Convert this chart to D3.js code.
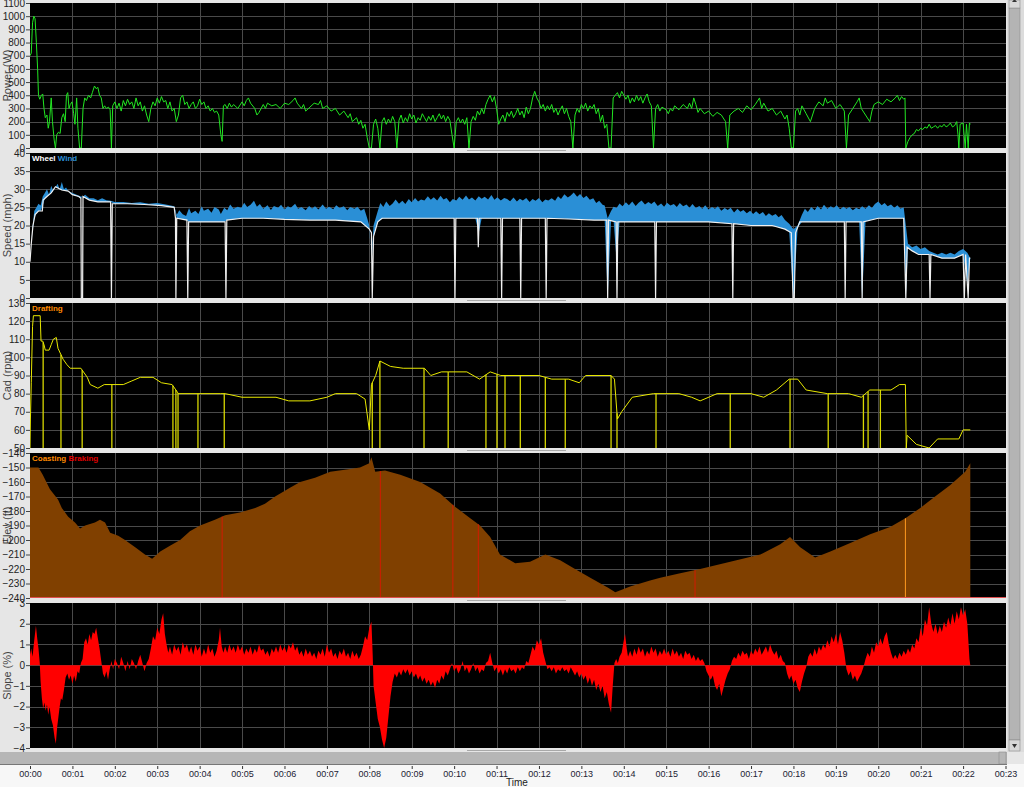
<!DOCTYPE html>
<html><head><meta charset="utf-8">
<script src="https://cdn.jsdelivr.net/npm/d3@7"></script>
<style>body{margin:0;background:#e6e6e6;overflow:hidden}svg{display:block}</style>
</head><body>
<svg id="c" width="1024" height="787"></svg>
<script>
// ---- data (time in minutes) ----
const timeTicks = d3.range(0, 24);
const powerData = [[0,700],[0.03,720],[0.06,950],[0.09,1000],[0.12,980],[0.15,800],[0.18,600],[0.2,400],[0.23,370],[0.27,400],[0.3,410],[0.33,300],[0.36,230],[0.4,250],[0.43,150],[0.46,200],[0.5,380],[0.53,200],[0.57,60],[0.6,0],[0.63,100],[0.67,120],[0.71,110],[0.75,230],[0.79,260],[0.83,200],[0.86,400],[0.89,420],[0.92,300],[0.95,330],[0.99,350],[1.03,260],[1.06,180],[1.1,380],[1.13,150],[1.17,0],[1.21,0],[1.25,300],[1.29,380],[1.33,360],[1.38,400],[1.43,380],[1.47,420],[1.52,470],[1.56,450],[1.6,460],[1.64,400],[1.68,380],[1.72,300],[1.76,320],[1.8,300],[1.85,310],[1.89,290],[1.92,0],[1.95,320],[2.0,350],[2.05,300],[2.1,340],[2.15,280],[2.2,360],[2.25,320],[2.3,370],[2.35,330],[2.4,350],[2.45,300],[2.5,380],[2.55,320],[2.6,350],[2.65,280],[2.7,320],[2.75,250],[2.8,200],[2.85,300],[2.9,350],[2.95,320],[3.0,380],[3.05,340],[3.1,390],[3.15,350],[3.2,360],[3.25,300],[3.3,350],[3.35,280],[3.4,300],[3.45,200],[3.5,250],[3.55,380],[3.6,400],[3.65,330],[3.7,350],[3.75,300],[3.8,330],[3.85,350],[3.9,300],[3.95,320],[4.0,370],[4.05,330],[4.1,350],[4.15,300],[4.2,320],[4.25,280],[4.3,300],[4.35,270],[4.4,280],[4.45,250],[4.5,100],[4.53,50],[4.56,320],[4.6,330],[4.65,300],[4.7,340],[4.75,310],[4.8,330],[4.9,300],[5.0,350],[5.05,320],[5.1,360],[5.15,380],[5.2,340],[5.3,300],[5.35,250],[5.4,270],[5.5,330],[5.55,300],[5.6,340],[5.7,320],[5.8,330],[5.9,300],[6.0,340],[6.1,330],[6.2,360],[6.25,380],[6.3,340],[6.4,300],[6.45,330],[6.5,280],[6.6,310],[6.7,340],[6.8,330],[6.85,360],[6.9,300],[7.0,320],[7.1,280],[7.2,300],[7.3,250],[7.4,280],[7.5,230],[7.55,260],[7.6,200],[7.7,230],[7.75,180],[7.8,210],[7.85,150],[7.9,180],[7.95,80],[8.0,0],[8.05,0],[8.1,180],[8.15,220],[8.2,150],[8.25,0],[8.3,200],[8.35,230],[8.4,180],[8.45,220],[8.5,190],[8.55,240],[8.6,200],[8.65,0],[8.7,210],[8.75,250],[8.8,190],[8.85,230],[8.9,200],[8.95,260],[9.0,220],[9.05,250],[9.1,190],[9.15,230],[9.2,210],[9.25,260],[9.3,230],[9.35,200],[9.4,240],[9.45,210],[9.5,250],[9.55,200],[9.6,230],[9.65,260],[9.7,220],[9.75,250],[9.8,200],[9.85,240],[9.9,210],[9.95,100],[10.0,0],[10.05,200],[10.1,230],[10.15,190],[10.2,220],[10.25,180],[10.3,230],[10.35,0],[10.4,200],[10.45,240],[10.5,210],[10.55,280],[10.6,250],[10.65,300],[10.7,260],[10.75,330],[10.8,370],[10.85,400],[10.9,350],[10.95,390],[11.0,300],[11.05,180],[11.1,220],[11.15,250],[11.2,200],[11.25,270],[11.3,240],[11.35,280],[11.4,230],[11.45,260],[11.5,300],[11.55,250],[11.6,280],[11.65,230],[11.7,310],[11.75,260],[11.8,300],[11.85,380],[11.9,430],[11.95,380],[12.0,350],[12.05,300],[12.1,330],[12.15,280],[12.2,320],[12.25,290],[12.3,330],[12.35,270],[12.4,300],[12.45,250],[12.5,290],[12.55,320],[12.6,260],[12.65,300],[12.7,240],[12.75,200],[12.8,0],[12.85,250],[12.9,300],[12.95,270],[13.0,330],[13.05,300],[13.1,340],[13.15,280],[13.2,320],[13.25,300],[13.3,330],[13.35,260],[13.4,300],[13.45,200],[13.5,250],[13.55,150],[13.6,180],[13.65,0],[13.7,0],[13.75,380],[13.8,400],[13.85,420],[13.9,380],[13.95,430],[14.0,400],[14.05,370],[14.1,400],[14.15,340],[14.2,380],[14.25,350],[14.3,400],[14.35,360],[14.4,390],[14.45,340],[14.5,380],[14.55,410],[14.6,350],[14.65,320],[14.7,0],[14.75,300],[14.8,330],[14.85,280],[14.9,310],[15.0,290],[15.05,260],[15.1,300],[15.15,280],[15.2,320],[15.3,290],[15.4,330],[15.5,300],[15.55,340],[15.6,300],[15.65,380],[15.7,330],[15.75,270],[15.8,300],[15.9,260],[16.0,280],[16.1,240],[16.2,270],[16.3,250],[16.4,200],[16.45,0],[16.5,250],[16.6,280],[16.7,300],[16.8,270],[16.9,320],[17.0,290],[17.1,330],[17.2,380],[17.25,300],[17.3,340],[17.4,280],[17.5,300],[17.6,250],[17.7,280],[17.8,220],[17.85,250],[17.9,150],[17.95,0],[18.0,0],[18.05,280],[18.1,300],[18.15,250],[18.2,320],[18.3,260],[18.4,200],[18.5,300],[18.6,350],[18.7,320],[18.75,380],[18.8,340],[18.9,360],[19.0,300],[19.1,330],[19.2,280],[19.25,0],[19.3,250],[19.4,300],[19.5,350],[19.55,380],[19.6,300],[19.7,250],[19.8,200],[19.85,280],[19.9,330],[20.0,350],[20.1,330],[20.2,370],[20.3,350],[20.4,380],[20.45,400],[20.5,360],[20.55,390],[20.6,370],[20.63,380],[20.65,0],[20.7,50],[20.75,80],[20.8,100],[20.85,110],[20.9,140],[20.95,130],[21.0,150],[21.05,140],[21.1,160],[21.15,150],[21.2,180],[21.25,150],[21.3,160],[21.35,170],[21.4,150],[21.45,170],[21.5,160],[21.55,180],[21.6,160],[21.65,170],[21.7,190],[21.75,160],[21.8,170],[21.85,200],[21.88,100],[21.9,0],[21.93,180],[22.0,190],[22.05,0],[22.08,180],[22.12,0],[22.15,190],[22.17,180]];
const wheelData = [[0,10],[0.03,15],[0.07,20],[0.12,23],[0.2,24],[0.29,24],[0.31,27],[0.4,28],[0.5,29],[0.6,30.7],[0.75,29.8],[0.9,29.5],[1.0,28.5],[1.15,28],[1.2,27.5],[1.21,0],[1.24,0],[1.25,28],[1.4,27],[1.6,26.5],[1.9,26.5],[1.92,0],[1.94,26],[2.3,26],[2.7,25.8],[3.1,25.5],[3.4,25],[3.43,22],[3.44,0],[3.46,22],[3.7,21.5],[3.72,0],[3.74,21],[4.2,21],[4.6,21],[4.62,0],[4.64,21.5],[5.0,22],[5.5,22],[6.0,21.7],[6.6,21.5],[7.2,21.5],[7.8,21],[8.0,19],[8.05,18],[8.07,0],[8.1,17],[8.2,21],[8.3,22],[9.0,22],[9.6,22],[10.0,22],[10.02,0],[10.04,22],[10.55,22],[10.57,14],[10.59,22],[11.1,22],[11.12,0],[11.14,22],[11.55,22],[11.57,0],[11.59,22],[12.15,22],[12.17,0],[12.19,22],[12.7,21.8],[13.3,21.5],[13.6,21.5],[13.62,0],[13.64,21.5],[13.82,21],[13.84,0],[13.86,21],[14.3,21],[14.73,21],[14.75,0],[14.77,21],[15.3,21],[16.0,21],[16.55,20.5],[16.57,0],[16.59,20.5],[17.0,20],[17.5,20],[17.8,19],[17.95,18],[17.99,0],[18.02,0],[18.05,18],[18.15,21],[18.6,21],[19.2,21],[19.22,0],[19.24,21],[19.6,21],[19.62,0],[19.64,21],[20.0,22],[20.6,22],[20.65,0],[20.68,14],[20.8,13],[20.95,12],[21.2,12],[21.22,0],[21.24,12],[21.5,11],[21.8,11],[22.0,12],[22.03,0],[22.06,12],[22.12,0],[22.15,11],[22.17,11]];
const windData = [[0,10],[0.05,18],[0.1,24],[0.15,25],[0.2,26],[0.25,25.5],[0.3,28],[0.35,29],[0.4,30],[0.45,28.5],[0.5,31],[0.55,29.5],[0.6,30.5],[0.65,31.5],[0.7,30],[0.75,32],[0.8,30],[0.85,30.5],[0.9,29.5],[1.0,29],[1.1,28.5],[1.2,28],[1.25,28],[1.3,28.5],[1.4,27.5],[1.5,27.5],[1.6,27],[1.7,27.5],[1.8,27],[1.9,26.8],[2.0,26.5],[2.2,26.5],[2.4,26.2],[2.6,26.4],[2.8,26],[3.0,26.2],[3.2,25.8],[3.4,25.3],[3.46,23],[3.52,24.2],[3.6,23.1],[3.68,22.6],[3.75,24.8],[3.8,23.4],[3.9,24.1],[3.97,23.2],[4.05,25.3],[4.1,24.1],[4.2,24.6],[4.28,23.5],[4.35,25.1],[4.45,24.4],[4.5,23.2],[4.58,24.9],[4.65,24.2],[4.72,25.8],[4.8,24.6],[4.9,25.2],[4.98,24.8],[5.05,26.3],[5.12,25.1],[5.2,25.7],[5.28,26.8],[5.35,25.2],[5.42,25.9],[5.5,24.6],[5.6,25.6],[5.68,24.3],[5.75,25.4],[5.85,24.9],[5.92,25.7],[6.0,24.4],[6.08,25.3],[6.15,24.9],[6.25,26],[6.32,24.6],[6.4,25.1],[6.5,24.2],[6.58,25.4],[6.65,24.7],[6.72,25.3],[6.8,24.4],[6.9,25.8],[6.98,24.6],[7.05,25.2],[7.15,24.5],[7.22,25.6],[7.3,24.8],[7.4,25.3],[7.48,24.2],[7.55,25.1],[7.65,24.6],[7.72,25.2],[7.8,24.1],[7.88,24.6],[7.95,22],[8.0,20],[8.05,10],[8.1,20],[8.2,24],[8.26,26.2],[8.33,25.1],[8.4,26.6],[8.48,25.4],[8.55,26.1],[8.62,27.2],[8.7,26],[8.78,26.8],[8.85,25.9],[8.93,27.3],[9.0,26.4],[9.08,27.6],[9.15,26.6],[9.22,27.2],[9.3,26.9],[9.38,28.1],[9.45,27.1],[9.52,27.8],[9.6,26.9],[9.68,28.2],[9.75,27.2],[9.82,27.6],[9.9,26.4],[9.97,27.3],[10.05,26.9],[10.12,27.9],[10.2,27.1],[10.28,28.3],[10.35,27.2],[10.42,27.7],[10.5,26.9],[10.58,28.1],[10.65,27.4],[10.72,27.9],[10.8,27.2],[10.88,28.4],[10.95,27.1],[11.02,27.8],[11.1,26.9],[11.18,27.6],[11.25,27.3],[11.32,26.7],[11.4,27.7],[11.48,26.6],[11.55,27.4],[11.62,26.9],[11.7,27.6],[11.78,26.5],[11.85,27.3],[11.92,26.8],[12.0,27.6],[12.08,26.4],[12.15,27.2],[12.22,26.9],[12.3,27.5],[12.38,26.8],[12.45,28.1],[12.52,27.3],[12.6,28.6],[12.68,27.7],[12.75,28.3],[12.82,29.1],[12.9,27.9],[12.97,28.7],[13.05,27.6],[13.12,28.2],[13.2,27.1],[13.28,27.5],[13.35,26.2],[13.42,26.8],[13.5,25.7],[13.55,25.5],[13.62,22],[13.7,24],[13.76,25.2],[13.83,24.8],[13.9,26.1],[13.97,25.3],[14.05,26.4],[14.12,25.6],[14.2,26.6],[14.28,25.4],[14.35,26.3],[14.42,26.9],[14.5,25.8],[14.58,26.5],[14.65,25.9],[14.72,26.6],[14.8,25.4],[14.88,26.1],[14.95,25.2],[15.02,26.3],[15.1,25.5],[15.18,25.9],[15.25,25.1],[15.32,26.2],[15.4,25.3],[15.48,25.8],[15.55,24.9],[15.62,25.9],[15.7,24.8],[15.78,25.4],[15.85,24.6],[15.92,25.6],[16.0,24.4],[16.08,25.1],[16.15,24.6],[16.22,25.3],[16.3,24.1],[16.38,24.8],[16.45,24.3],[16.52,24.9],[16.6,23.6],[16.68,24.6],[16.75,23.8],[16.82,24.3],[16.9,23.4],[16.98,24.1],[17.05,23.2],[17.12,23.9],[17.2,23.1],[17.28,23.7],[17.35,22.6],[17.42,23.4],[17.5,22.7],[17.58,23.2],[17.65,22.3],[17.72,22.9],[17.8,21.5],[17.9,20.5],[18.0,19],[18.1,20],[18.2,23],[18.27,24.6],[18.34,23.7],[18.42,25.1],[18.5,24.2],[18.57,25.4],[18.65,24.4],[18.72,25.7],[18.8,24.6],[18.88,25.3],[18.95,24.8],[19.02,25.6],[19.1,24.5],[19.18,25.2],[19.25,24.6],[19.32,25.1],[19.4,24.2],[19.48,24.9],[19.55,24.5],[19.62,25.3],[19.7,24.6],[19.78,25.6],[19.85,24.8],[19.92,25.9],[20.0,26.6],[20.08,25.6],[20.15,26.2],[20.22,25.3],[20.3,25.8],[20.38,24.9],[20.45,25.6],[20.52,24.7],[20.6,25],[20.65,20],[20.7,15],[20.8,14],[20.9,14.5],[21.0,13.5],[21.1,14],[21.2,13],[21.3,12.5],[21.4,12],[21.5,12.5],[21.6,12],[21.7,12.5],[21.8,12],[21.9,13],[22.0,13.5],[22.1,12.5],[22.17,11]];
const cadData = [[0,50],[0.01,66],[0.03,86],[0.06,117],[0.08,123],[0.24,123],[0.26,109],[0.3,109],[0.33,107],[0.36,104],[0.45,104],[0.5,107],[0.55,110],[0.62,111],[0.66,105],[0.78,99],[0.87,96],[0.95,94],[1.2,94],[1.35,89],[1.42,85],[1.6,83],[1.75,85],[2.2,85],[2.4,87],[2.6,89],[2.9,89],[3.1,86],[3.35,85],[3.5,80],[4.5,80],[4.6,80],[5.0,78],[5.8,78],[6.1,76],[6.6,76],[7.0,78],[7.2,80],[7.7,80],[7.9,77],[8.0,60],[8.05,85],[8.15,90],[8.25,98],[8.5,95],[8.8,94],[9.3,94],[9.45,90],[9.7,92],[10.3,92],[10.6,88],[10.85,92],[11.1,90],[12.0,90],[12.3,88],[12.7,88],[12.95,86],[13.1,90],[13.7,90],[13.78,88],[13.85,66],[13.95,70],[14.2,78],[14.7,80],[15.3,80],[15.6,78],[15.8,76],[16.2,80],[17.0,80],[17.3,78],[17.6,82],[17.9,88],[18.1,88],[18.3,82],[18.8,80],[19.3,80],[19.6,78],[19.8,82],[20.3,82],[20.5,85],[20.64,85],[20.66,50],[20.68,57],[20.9,52],[21.2,50],[21.4,55],[21.9,55],[22.0,60],[22.17,60]];
const cadDropTimes = [0.31,0.73,1.23,1.93,3.37,3.44,3.49,3.96,4.58,8.07,8.25,9.29,9.86,10.75,11.01,11.2,11.56,12.15,12.62,13.7,13.84,14.76,16.51,17.92,18.82,19.65,19.76,20.05];
const elevData = [[0,-150],[0.2,-150],[0.3,-155],[0.47,-165],[0.66,-172],[0.75,-178],[0.9,-184],[1.06,-188],[1.18,-192],[1.3,-190],[1.53,-188],[1.65,-186],[1.77,-188],[1.89,-195],[2.08,-197],[2.24,-200],[2.48,-205],[2.71,-210],[2.88,-213],[3.07,-208],[3.3,-204],[3.54,-200],[3.77,-194],[4.01,-190],[4.36,-186],[4.6,-183],[4.95,-181],[5.31,-178],[5.54,-175],[5.78,-170],[6.13,-164],[6.37,-160],[6.72,-157],[7.08,-153],[7.55,-151],[7.78,-150],[8.0,-147],[8.05,-143],[8.14,-153],[8.37,-152],[8.73,-155],[9.2,-160],[9.67,-168],[10.02,-177],[10.38,-185],[10.61,-190],[10.85,-198],[11.08,-210],[11.44,-216],[11.79,-215],[12.15,-210],[12.5,-214],[12.85,-220],[13.21,-226],[13.63,-233],[13.8,-236],[14.15,-232],[14.62,-228],[14.86,-226],[15.33,-223],[15.8,-220],[16.51,-215],[17.22,-210],[17.69,-203],[17.92,-198],[18.16,-205],[18.51,-212],[18.87,-208],[19.34,-202],[19.81,-196],[20.28,-191],[20.64,-185],[20.99,-178],[21.34,-170],[21.7,-162],[22.05,-153],[22.17,-147]];
const brakeTimes = [4.53, 8.26, 9.97, 10.57, 15.68];
const coastTimes = [20.64];
const slopeData = [[0,0.5],[0.03,0.8],[0.06,0.4],[0.1,1.2],[0.14,1.9],[0.17,1.3],[0.2,0.8],[0.23,0.1],[0.25,-0.8],[0.28,-1.6],[0.31,-2.1],[0.34,-1.8],[0.37,-2.2],[0.4,-1.9],[0.43,-2.4],[0.46,-2.0],[0.5,-2.6],[0.54,-2.9],[0.58,-3.5],[0.61,-3.8],[0.64,-3.0],[0.67,-2.5],[0.7,-2.0],[0.73,-1.6],[0.76,-1.7],[0.8,-1.2],[0.84,-0.6],[0.88,-0.4],[0.92,-0.7],[0.96,-0.5],[1.0,-0.9],[1.04,-0.5],[1.08,-0.8],[1.12,-0.3],[1.16,-0.4],[1.2,0.1],[1.24,0.3],[1.28,1.1],[1.32,1.3],[1.36,1.0],[1.4,1.5],[1.44,1.2],[1.48,1.6],[1.52,1.5],[1.56,1.8],[1.6,1.3],[1.64,0.8],[1.68,0.2],[1.72,-0.4],[1.76,-0.6],[1.8,-0.3],[1.84,-0.7],[1.88,-0.2],[1.92,0.2],[1.96,-0.2],[2.0,0.3],[2.05,0.1],[2.1,-0.2],[2.15,0.4],[2.2,0.1],[2.25,-0.3],[2.3,0.2],[2.35,-0.2],[2.4,0.3],[2.45,0.1],[2.5,-0.2],[2.55,0.2],[2.6,0.5],[2.65,0.1],[2.7,-0.3],[2.75,0.1],[2.8,0.3],[2.85,0.8],[2.9,1.4],[2.95,1.2],[3.0,1.8],[3.05,1.5],[3.1,2.2],[3.14,2.5],[3.18,1.5],[3.22,1.0],[3.26,0.6],[3.3,0.9],[3.35,0.5],[3.4,1.0],[3.45,0.7],[3.5,0.9],[3.55,0.5],[3.6,1.1],[3.65,0.8],[3.7,1.0],[3.75,0.6],[3.8,0.9],[3.85,0.5],[3.9,1.0],[3.95,0.7],[4.0,0.9],[4.05,0.4],[4.1,0.8],[4.15,0.5],[4.2,1.0],[4.25,0.6],[4.3,0.8],[4.35,0.4],[4.4,0.7],[4.45,1.2],[4.48,1.8],[4.52,0.9],[4.56,0.6],[4.6,0.9],[4.65,0.6],[4.7,1.0],[4.75,0.7],[4.8,0.9],[4.85,0.6],[4.9,1.0],[4.95,0.7],[5.0,0.9],[5.05,0.5],[5.1,0.8],[5.15,0.6],[5.2,0.9],[5.25,0.5],[5.3,0.8],[5.35,0.6],[5.4,1.0],[5.45,0.7],[5.5,0.8],[5.55,0.5],[5.6,0.7],[5.65,0.4],[5.7,0.8],[5.75,0.6],[5.8,0.9],[5.85,0.6],[5.9,1.0],[5.95,0.7],[6.0,0.9],[6.05,0.6],[6.1,1.0],[6.15,0.8],[6.2,1.1],[6.25,0.7],[6.3,0.9],[6.35,0.5],[6.4,0.7],[6.45,0.4],[6.5,0.8],[6.55,0.5],[6.6,0.7],[6.65,0.4],[6.7,0.6],[6.75,0.3],[6.8,0.7],[6.85,0.5],[6.9,0.8],[6.95,0.4],[7.0,1.0],[7.05,0.6],[7.1,0.8],[7.15,0.4],[7.2,0.6],[7.25,0.3],[7.3,0.7],[7.35,0.5],[7.4,0.8],[7.45,0.4],[7.5,0.6],[7.55,0.3],[7.6,0.7],[7.65,0.4],[7.7,0.6],[7.75,0.3],[7.8,0.5],[7.85,0.9],[7.9,1.4],[7.95,1.2],[8.0,1.8],[8.05,2.1],[8.08,0.5],[8.1,-1.0],[8.15,-1.8],[8.2,-2.6],[8.25,-3.0],[8.3,-3.6],[8.35,-4.0],[8.4,-3.5],[8.45,-2.5],[8.5,-1.5],[8.55,-0.8],[8.6,-0.4],[8.65,-0.6],[8.7,-0.3],[8.75,-0.5],[8.8,-0.2],[8.85,-0.4],[8.9,-0.2],[8.95,-0.5],[9.0,-0.3],[9.05,-0.6],[9.1,-0.4],[9.15,-0.7],[9.2,-0.5],[9.25,-0.8],[9.3,-0.6],[9.35,-0.9],[9.4,-0.7],[9.45,-1.0],[9.5,-0.8],[9.55,-1.1],[9.6,-0.7],[9.65,-0.9],[9.7,-0.5],[9.75,-0.7],[9.8,-0.3],[9.85,-0.5],[9.9,-0.2],[9.95,0.1],[10.0,-0.3],[10.05,-0.1],[10.1,-0.4],[10.15,-0.2],[10.2,0.2],[10.25,-0.3],[10.3,-0.1],[10.35,-0.4],[10.4,-0.2],[10.45,0.1],[10.5,-0.3],[10.55,-0.1],[10.6,-0.4],[10.65,-0.2],[10.7,-0.3],[10.75,0.1],[10.8,0.2],[10.85,0.6],[10.9,0.1],[10.95,-0.3],[11.0,-0.1],[11.05,-0.4],[11.1,-0.2],[11.15,-0.5],[11.2,-0.2],[11.25,-0.4],[11.3,-0.1],[11.35,-0.3],[11.4,-0.2],[11.45,-0.4],[11.5,-0.1],[11.55,-0.3],[11.6,-0.1],[11.65,-0.2],[11.7,0.2],[11.75,0.1],[11.8,0.5],[11.85,0.9],[11.9,0.7],[11.95,1.2],[12.0,1.0],[12.05,1.3],[12.1,0.6],[12.15,0.2],[12.2,-0.2],[12.25,-0.1],[12.3,-0.3],[12.35,-0.1],[12.4,-0.4],[12.45,-0.2],[12.5,-0.3],[12.55,-0.1],[12.6,-0.3],[12.65,-0.2],[12.7,-0.4],[12.75,-0.1],[12.8,-0.3],[12.85,-0.5],[12.9,-0.3],[12.95,-0.6],[13.0,-0.4],[13.05,-0.7],[13.1,-0.5],[13.15,-0.9],[13.2,-0.6],[13.25,-1.0],[13.3,-0.7],[13.35,-1.2],[13.4,-0.9],[13.45,-1.3],[13.5,-1.0],[13.55,-1.6],[13.6,-1.3],[13.65,-1.9],[13.7,-2.3],[13.74,-1.0],[13.78,0.1],[13.82,0.3],[13.86,0.1],[13.9,0.4],[13.95,0.6],[14.0,1.2],[14.03,1.5],[14.07,0.8],[14.1,0.4],[14.15,0.7],[14.2,0.4],[14.25,0.8],[14.3,0.5],[14.35,0.9],[14.4,0.6],[14.45,0.8],[14.5,0.4],[14.55,0.7],[14.6,0.5],[14.65,0.9],[14.7,0.6],[14.75,0.8],[14.8,0.4],[14.85,0.7],[14.9,0.5],[14.95,0.8],[15.0,0.5],[15.05,0.7],[15.1,0.4],[15.15,0.8],[15.2,0.5],[15.25,0.7],[15.3,0.4],[15.35,0.6],[15.4,0.3],[15.45,0.7],[15.5,0.5],[15.55,0.6],[15.6,0.3],[15.65,0.5],[15.7,0.2],[15.75,0.4],[15.8,0.2],[15.85,0.3],[15.9,0.1],[15.95,-0.3],[16.0,-0.5],[16.05,-0.7],[16.1,-0.5],[16.15,-1.0],[16.2,-1.2],[16.25,-0.9],[16.3,-1.5],[16.35,-1.1],[16.4,-0.7],[16.45,-0.4],[16.5,-0.2],[16.55,0.2],[16.6,0.4],[16.65,0.3],[16.7,0.6],[16.75,0.4],[16.8,0.7],[16.85,0.5],[16.9,0.6],[16.95,0.3],[17.0,0.7],[17.05,0.5],[17.1,0.8],[17.15,0.6],[17.2,0.9],[17.25,0.5],[17.3,0.7],[17.35,0.9],[17.4,0.6],[17.45,1.0],[17.5,0.7],[17.55,0.5],[17.6,0.7],[17.65,0.3],[17.7,0.5],[17.75,0.2],[17.8,0.1],[17.85,-0.4],[17.9,-0.7],[17.95,-0.5],[18.0,-0.9],[18.05,-0.7],[18.1,-1.1],[18.15,-1.3],[18.2,-0.8],[18.25,-0.4],[18.3,-0.1],[18.35,0.4],[18.4,0.6],[18.45,0.4],[18.5,0.8],[18.55,0.5],[18.6,0.9],[18.65,0.7],[18.7,1.0],[18.75,0.8],[18.8,1.2],[18.85,0.9],[18.9,1.4],[18.95,1.1],[19.0,1.5],[19.05,1.0],[19.1,1.6],[19.15,1.2],[19.2,0.6],[19.25,-0.2],[19.3,-0.5],[19.35,-0.3],[19.4,-0.7],[19.45,-0.5],[19.5,-0.8],[19.55,-0.6],[19.6,-0.4],[19.65,-0.1],[19.7,0.3],[19.75,0.6],[19.8,0.4],[19.85,0.9],[19.9,0.6],[19.95,1.1],[20.0,0.9],[20.05,1.3],[20.1,1.0],[20.15,1.4],[20.2,1.6],[20.25,1.0],[20.3,0.6],[20.35,0.3],[20.4,0.5],[20.45,0.3],[20.5,0.6],[20.55,0.4],[20.6,0.7],[20.65,0.5],[20.7,0.8],[20.75,0.6],[20.8,1.0],[20.85,0.8],[20.9,1.3],[20.95,1.1],[21.0,1.8],[21.05,1.4],[21.1,2.2],[21.15,1.9],[21.2,2.8],[21.25,2.0],[21.3,1.6],[21.35,2.0],[21.4,1.5],[21.45,1.9],[21.5,1.6],[21.55,2.1],[21.6,1.8],[21.65,2.3],[21.7,1.9],[21.75,2.5],[21.8,2.0],[21.85,2.6],[21.9,2.2],[21.95,2.8],[22.0,2.4],[22.05,2.7],[22.1,2.0],[22.13,1.0],[22.15,0.3],[22.17,0]];

// ---- layout ----
const svg = d3.select("#c");
const L = 30, R = 1006, H = 145;
const tops = [3, 153, 303, 453, 603];
const x = d3.scaleLinear().domain([0, 23]).range([L, 1005.5]);
const fmtT = m => "00:" + String(m).padStart(2, "0");
const interp = (data, t) => {
  const i = d3.bisector(d=>d[0]).left(data, t);
  const a = data[Math.max(0,i-1)], b = data[Math.min(data.length-1,i)];
  if (a===b || b[0]===a[0]) return a[1];
  return a[1] + (b[1]-a[1])*(t-a[0])/(b[0]-a[0]);
};

const panels = [
  {title:"Power (W)", dom:[0,1100], ticks:d3.range(0,1101,100)},
  {title:"Speed (mph)", dom:[0,40], ticks:d3.range(0,41,5)},
  {title:"Cad (rpm)", dom:[50,130], ticks:d3.range(50,131,10)},
  {title:"Elev (ft)", dom:[-240,-140], ticks:d3.range(-240,-139,10)},
  {title:"Slope (%)", dom:[-4,3], ticks:d3.range(-4,4,1)}
];

// right scrollbar
svg.append("rect").attr("x",1007).attr("y",0).attr("width",17).attr("height",752).attr("fill","#dcdcdc");
svg.append("rect").attr("x",1009).attr("y",8).attr("width",11).attr("height",732).attr("fill","#b4b4b4").attr("stroke","#8c8c8c").attr("stroke-width",0.6);
svg.append("rect").attr("x",1009).attr("y",0).attr("width",11).attr("height",8).attr("fill","#d8d8d8").attr("stroke","#8c8c8c").attr("stroke-width",0.6);
svg.append("rect").attr("x",1009).attr("y",740).attr("width",11).attr("height",11).attr("fill","#d8d8d8").attr("stroke","#8c8c8c").attr("stroke-width",0.6);
svg.append("path").attr("d","M1012,2 L1017,2 L1014.5,-1Z").attr("fill","#333");
svg.append("path").attr("d","M1012,744 L1017,744 L1014.5,748Z").attr("fill","#333");
// bottom bar + axis area
svg.append("rect").attr("x",0).attr("y",752).attr("width",1007).attr("height",12).attr("fill","#b6b6b6");
svg.append("rect").attr("x",999).attr("y",752).attr("width",7).attr("height",12).attr("fill","none").attr("stroke","#8c8c8c").attr("stroke-width",0.6);
svg.append("rect").attr("x",0).attr("y",764).attr("width",1024).attr("height",23).attr("fill","#f7f7f7");
svg.append("line").attr("x1",0).attr("x2",1007).attr("y1",764.5).attr("y2",764.5).attr("stroke","#777");

panels.forEach((p, i) => {
  const top = tops[i];
  const y = d3.scaleLinear().domain(p.dom).range([top + H, top]);
  p.y = y;
  const g = svg.append("g");
  g.append("rect").attr("x",L).attr("y",top).attr("width",R-L).attr("height",H).attr("fill","#000");
  g.selectAll(".vg").data(timeTicks.filter(t=>t>0&&t<23)).join("line")
    .attr("x1",d=>Math.round(x(d))+0.5).attr("x2",d=>Math.round(x(d))+0.5)
    .attr("y1",top).attr("y2",top+H).attr("stroke","#4a4a4a").attr("stroke-width",1);
  g.selectAll(".hg").data(p.ticks.slice(1,-1)).join("line")
    .attr("x1",L).attr("x2",R).attr("y1",d=>Math.round(y(d))+0.5).attr("y2",d=>Math.round(y(d))+0.5)
    .attr("stroke","#4a4a4a").attr("stroke-width",1);
  svg.append("text").attr("transform",`translate(${8},${top+H/2}) rotate(-90)`)
    .attr("text-anchor","middle").attr("dominant-baseline","middle").attr("fill","#444")
    .style("font","11px 'Liberation Sans', sans-serif").text(p.title);
  const ax = svg.append("g").attr("transform",`translate(${L},0)`)
    .call(d3.axisLeft(y).tickValues(p.ticks).tickSize(4).tickPadding(1).tickFormat(d3.format("d")));
  ax.select(".domain").remove();
  ax.selectAll("line").attr("stroke","#444");
  ax.selectAll("text").attr("fill","#222").style("font","10px 'Liberation Sans', sans-serif");
  svg.append("line").attr("x1",467).attr("x2",566).attr("y1",top+H+2.5).attr("y2",top+H+2.5).attr("stroke","#a8a8a8").attr("stroke-width",1);
});

function clip(i){
  const id="clip"+i;
  svg.append("clipPath").attr("id",id).append("rect").attr("x",L).attr("y",tops[i]).attr("width",R-L).attr("height",H);
  return "url(#"+id+")";
}

// Power
{
  const y = panels[0].y;
  svg.append("path").datum(powerData).attr("clip-path",clip(0))
    .attr("d", d3.line().x(d=>x(d[0])).y(d=>y(d[1])))
    .attr("fill","none").attr("stroke","#22e622").attr("stroke-width",1);
}
// Speed
{
  const y = panels[1].y;
  const band = windData.map(d => [d[0], d[1], Math.min(d[1], interp(wheelData, d[0]))]);
  const cp = clip(1);
  svg.append("path").datum(band).attr("clip-path",cp)
    .attr("d", d3.area().x(d=>x(d[0])).y0(d=>y(d[2])).y1(d=>y(d[1])))
    .attr("fill","#2a8fd6");
  svg.append("path").datum(wheelData).attr("clip-path",cp)
    .attr("d", d3.line().x(d=>x(d[0])).y(d=>y(d[1])))
    .attr("fill","none").attr("stroke","#f0f0f0").attr("stroke-width",1.2);
  const lg = svg.append("text").attr("x",32).attr("y",tops[1]+8).style("font","bold 8px 'Liberation Sans', sans-serif");
  lg.append("tspan").attr("fill","#fff").text("Wheel ");
  lg.append("tspan").attr("fill","#2a8fd6").text("Wind");
}
// Cadence
{
  const y = panels[2].y;
  const cp = clip(2);
  svg.selectAll(".cdrop").data(cadDropTimes).join("line").attr("clip-path",cp)
    .attr("x1",d=>x(d)).attr("x2",d=>x(d)).attr("y1",d=>y(interp(cadData,d))).attr("y2",y(50))
    .attr("stroke","#d8d800").attr("stroke-width",1.3);
  svg.append("path").datum(cadData).attr("clip-path",cp)
    .attr("d", d3.line().x(d=>x(d[0])).y(d=>y(d[1])))
    .attr("fill","none").attr("stroke","#e8e800").attr("stroke-width",1);
  svg.append("text").attr("x",32).attr("y",tops[2]+8).attr("fill","#ff8a00")
    .style("font","bold 8px 'Liberation Sans', sans-serif").text("Drafting");
}
// Elevation
{
  const y = panels[3].y;
  const cp = clip(3);
  svg.append("path").datum(elevData).attr("clip-path",cp)
    .attr("d", d3.area().x(d=>x(d[0])).y0(y(-240)).y1(d=>y(d[1])))
    .attr("fill","#804000");
  svg.selectAll(".brk").data(brakeTimes).join("line").attr("clip-path",cp)
    .attr("x1",d=>x(d)).attr("x2",d=>x(d)).attr("y1",tops[3]+H).attr("y2",d=>y(interp(elevData,d)))
    .attr("stroke","#d21a00").attr("stroke-width",1);
  svg.selectAll(".cst").data(coastTimes).join("line").attr("clip-path",cp)
    .attr("x1",d=>x(d)).attr("x2",d=>x(d)).attr("y1",tops[3]+H).attr("y2",d=>y(interp(elevData,d)))
    .attr("stroke","#ff9a20").attr("stroke-width",1);
  svg.append("line").attr("x1",L).attr("x2",R).attr("y1",tops[3]+H-0.5).attr("y2",tops[3]+H-0.5).attr("stroke","#e05050").attr("stroke-width",1);
  const lg = svg.append("text").attr("x",32).attr("y",tops[3]+8).style("font","bold 8px 'Liberation Sans', sans-serif");
  lg.append("tspan").attr("fill","#ff8a00").text("Coasting ");
  lg.append("tspan").attr("fill","#e00000").text("Braking");
}
// Slope
{
  const y = panels[4].y;
  svg.append("path").datum(slopeData).attr("clip-path",clip(4))
    .attr("d", d3.area().x(d=>x(d[0])).y0(y(0)).y1(d=>y(d[1])))
    .attr("fill","#ff0000");
}

// time axis
const tax = svg.append("g").attr("transform","translate(0,766)")
  .call(d3.axisBottom(x).tickValues(timeTicks).tickSize(3).tickPadding(2).tickFormat(fmtT));
tax.select(".domain").remove();
tax.selectAll("line").attr("stroke","#333");
tax.selectAll("text").attr("fill","#223").style("font","9px 'Liberation Sans', sans-serif");
svg.append("text").attr("x",517).attr("y",786).attr("text-anchor","middle").attr("fill","#222")
  .style("font","10px 'Liberation Sans', sans-serif").text("Time");
</script>
</body></html>
